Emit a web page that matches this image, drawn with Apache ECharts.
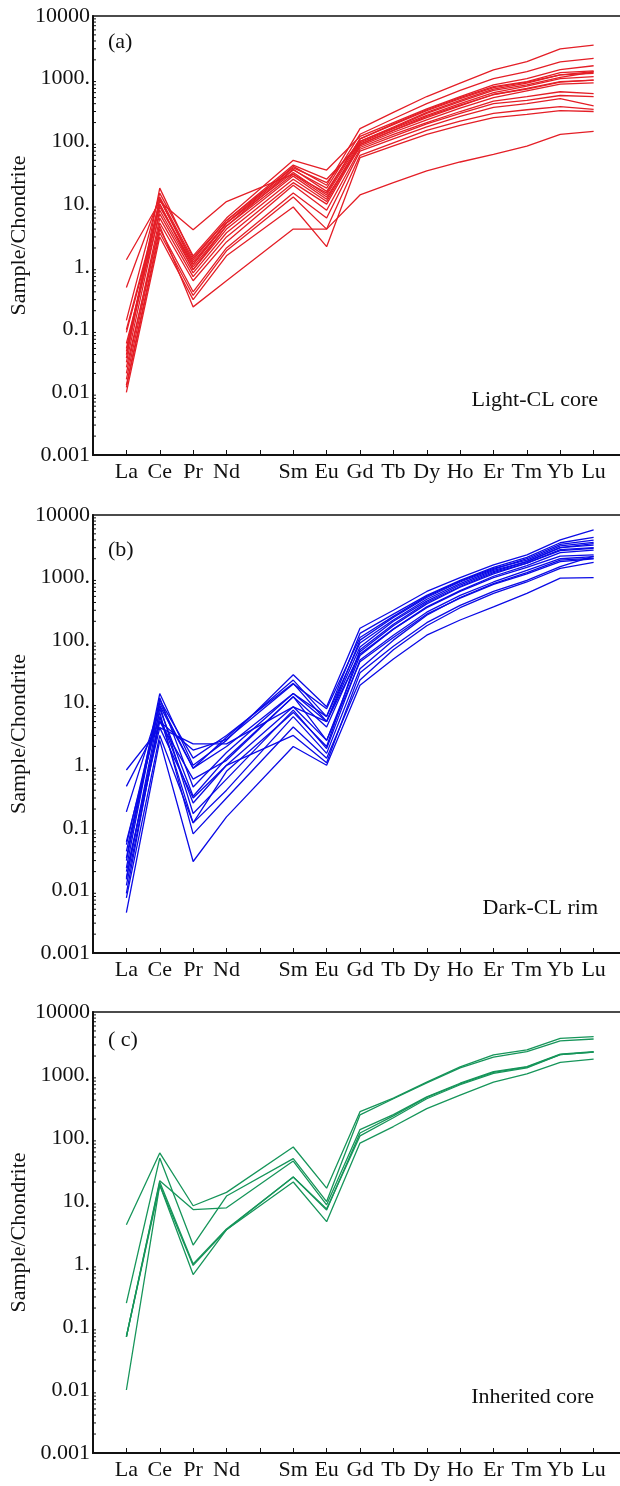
<!DOCTYPE html>
<html>
<head>
<meta charset="utf-8">
<script src="https://cdn.jsdelivr.net/npm/echarts@6/dist/echarts.min.js"></script>
<style>
  html, body { margin: 0; padding: 0; background: #fff; }
  #chart { width: 620px; height: 1486px; }
</style>
</head>
<body>
<div id="chart"></div>
<script>
// 元素（Pm 处留空，首尾各留一个空位）
var elements = ["", "La", "Ce", "Pr", "Nd", "Pm", "Sm", "Eu", "Gd", "Tb", "Dy", "Ho", "Er", "Tm", "Yb", "Lu", "end"];
var yTickLabels = ["0.001", "0.01", "0.1", "1.", "10.", "100.", "1000.", "10000"];
var minorSteps = [2, 3, 4, 5, 6, 7, 8, 9];
var decades = [0.001, 0.01, 0.1, 1, 10, 100, 1000];

// 每行: La Ce Pr Nd Sm Eu Gd Tb Dy Ho Er Tm Yb Lu
var lightCore = [
  [0.05, 12, 1.2, 5, 40, 20, 160, 290, 520, 850, 1380, 1870, 2980, 3440],
  [0.04, 10, 1.0, 4.5, 35, 18, 130, 230, 400, 650, 1000, 1300, 1850, 2110],
  [0.14, 15, 1.5, 6, 50, 35, 120, 200, 330, 520, 800, 1000, 1400, 1610],
  [1.3, 11, 3.9, 11, 30, 15, 110, 190, 320, 500, 750, 900, 1250, 1330],
  [0.47, 13, 1.3, 5.5, 38, 22, 100, 170, 290, 450, 680, 850, 1150, 1220],
  [0.09, 9, 1.1, 5, 32, 14, 100, 165, 280, 430, 650, 800, 1050, 1280],
  [0.03, 8, 0.9, 4, 28, 12, 95, 160, 260, 400, 600, 760, 1000, 1080],
  [0.06, 7, 0.8, 3.5, 25, 11, 90, 150, 240, 370, 560, 700, 900, 950],
  [0.02, 6, 0.7, 3, 22, 10, 85, 140, 220, 340, 500, 640, 820, 860],
  [0.1, 10, 0.9, 4.5, 30, 13, 80, 130, 200, 300, 440, 520, 620, 580],
  [0.016, 5, 0.6, 2.5, 20, 8, 75, 120, 190, 280, 400, 450, 540, 520],
  [0.013, 4, 0.4, 2, 15, 6, 70, 110, 170, 250, 350, 400, 480, 370],
  [0.012, 3.5, 0.35, 1.8, 13, 4, 60, 95, 150, 210, 280, 320, 360, 325],
  [0.01, 3, 0.3, 1.5, 9, 2.1, 55, 85, 130, 180, 240, 270, 310, 300],
  [0.025, 4.5, 0.23, 0.6, 4, 4, 14, 22, 34, 47, 62, 84, 130, 145],
  [0.045, 12, 1.1, 5, 36, 16, 110, 185, 310, 480, 720, 880, 1150, 1300],
  [0.035, 18, 1.4, 5.5, 42, 25, 90, 150, 250, 380, 560, 680, 880, 950]
];

var darkRim = [
  [0.033, 14, 1.0, 2.5, 28, 8.6, 155, 300, 600, 1000, 1600, 2300, 4000, 5760],
  [0.054, 10, 0.9, 2.8, 23, 6, 128, 260, 520, 900, 1450, 2100, 3600, 4400],
  [0.84, 4, 2.2, 2.2, 8.6, 5, 100, 230, 480, 850, 1350, 2000, 3400, 3980],
  [0.46, 5, 1.75, 2.6, 20, 8, 110, 240, 500, 880, 1400, 1900, 3200, 3660],
  [0.023, 12, 0.45, 1.6, 14, 5, 78, 200, 420, 760, 1250, 1800, 3000, 3310],
  [0.015, 8, 0.32, 1.3, 12.5, 4.1, 65, 170, 380, 700, 1150, 1700, 2700, 2940],
  [0.009, 6, 0.25, 1.0, 8.6, 2.5, 57, 150, 340, 620, 1050, 1550, 2500, 2750],
  [0.042, 9, 0.17, 0.6, 7.6, 1.85, 48, 120, 280, 520, 850, 1300, 2000, 2160],
  [0.0076, 3, 0.12, 0.4, 6, 1.55, 35, 100, 250, 480, 800, 1200, 1900, 2040],
  [0.0044, 2.5, 0.029, 0.15, 2, 1.0, 19, 50, 120, 210, 340, 560, 980, 1000],
  [0.06, 7, 0.08, 0.3, 4.1, 1.3, 23, 70, 170, 330, 560, 850, 1400, 1750],
  [0.18, 9, 0.9, 2, 14, 6, 90, 210, 450, 800, 1300, 1800, 3000, 3500],
  [0.03, 11, 1.3, 3, 20.4, 5, 60, 150, 330, 600, 1000, 1450, 2200, 2300],
  [0.012, 5, 0.6, 1.2, 12.5, 2.5, 45, 110, 260, 470, 780, 1150, 1800, 2000],
  [0.02, 4, 0.3, 1.0, 3, 1.1, 30, 80, 190, 360, 600, 900, 1500, 2200],
  [0.016, 6, 0.12, 0.8, 7, 2, 70, 180, 400, 720, 1200, 1700, 2800, 3000]
];

var inheritedCore = [
  [4.2, 58, 8.4, 13.7, 72, 16, 262, 430, 770, 1350, 2080, 2500, 3820, 4070],
  [0.24, 48, 2.0, 12, 47, 9.8, 233, 420, 750, 1300, 1920, 2350, 3480, 3730],
  [0.07, 21, 7.3, 7.8, 43, 8.7, 136, 235, 450, 740, 1130, 1360, 2150, 2350],
  [0.07, 18, 0.95, 3.5, 24, 7.2, 120, 225, 440, 720, 1100, 1330, 2100, 2300],
  [0.07, 20, 1.0, 3.6, 24, 7.5, 108, 210, 420, 700, 1060, 1300, 2100, 2300],
  [0.01, 18, 0.68, 3.5, 20, 4.7, 83, 152, 293, 480, 770, 1040, 1590, 1780]
];

var panels = [
  { rows: lightCore, color: "#E41E26", top: 16, height: 439, tag: "(a)", tagY: 43, note: "Light-CL core", noteX: 598, noteY: 400 },
  { rows: darkRim, color: "#0A0AE6", top: 515, height: 438, tag: "(b)", tagY: 551, note: "Dark-CL rim", noteX: 598, noteY: 908 },
  { rows: inheritedCore, color: "#16955A", top: 1012, height: 441, tag: "( c)", tagY: 1041, note: "Inherited core", noteX: 594, noteY: 1397 }
];

var FONT = "Liberation Serif";

function toSeriesData(row) {
  // 插入首位空位和 Pm 空位
  return [null].concat(row.slice(0, 4), [null], row.slice(4), [null]);
}

var minorData = [];
decades.forEach(function (d) {
  minorSteps.forEach(function (m) {
    minorData.push([0, +(d * m).toPrecision(3)]);
  });
});

var grids = [], xAxes = [], yAxes = [], series = [], texts = [];

panels.forEach(function (p, i) {
  grids.push({
    left: 93, top: p.top, width: 534, height: p.height,
    outerBoundsMode: "none", containLabel: false,
    show: true, borderColor: "#111", borderWidth: 1.5, backgroundColor: "transparent"
  });
  xAxes.push({
    type: "category", gridIndex: i, data: elements, boundaryGap: false,
    axisLine: { lineStyle: { color: "#111", width: 2 } },
    axisTick: { inside: true, length: 5, interval: 0, lineStyle: { color: "#111", width: 1 } },
    axisLabel: {
      interval: 0, margin: 6, color: "#111", fontFamily: FONT, fontSize: 22,
      formatter: function (v) { return (v === "Pm" || v === "end") ? "" : v; }
    },
    splitLine: { show: false }
  });
  yAxes.push({
    type: "log", logBase: 10, gridIndex: i, min: 0.001, max: 10000,
    name: "Sample/Chondrite", nameLocation: "middle", nameGap: 63, nameMoveOverlap: false,
    nameTextStyle: { color: "#111", fontFamily: FONT, fontSize: 22 },
    axisLine: { show: true, lineStyle: { color: "#111", width: 2 } },
    axisTick: { inside: true, length: 6, lineStyle: { color: "#111", width: 1 } },
    axisLabel: {
      margin: 3, color: "#111", fontFamily: FONT, fontSize: 22,
      formatter: function (v) { return yTickLabels[Math.round(Math.log10(v)) + 3]; }
    },
    splitLine: { show: false }
  });

  p.rows.forEach(function (row) {
    series.push({
      type: "line", xAxisIndex: i, yAxisIndex: i,
      data: toSeriesData(row), connectNulls: true,
      symbol: "none", silent: true,
      lineStyle: { color: p.color, width: 1.3 }
    });
  });

  // 对数次刻度
  series.push({
    type: "custom", xAxisIndex: i, yAxisIndex: i, silent: true, clip: false,
    data: minorData,
    renderItem: function (params, api) {
      var pt = api.coord([0, api.value(1)]);
      return {
        type: "line",
        shape: { x1: pt[0], y1: pt[1], x2: pt[0] + 3, y2: pt[1] },
        style: { stroke: "#111", lineWidth: 1 }
      };
    }
  });

  texts.push({
    type: "text", left: 108, top: p.tagY - 12,
    style: { text: p.tag, font: "22px '" + FONT + "'", fill: "#111" }
  });
  texts.push({
    type: "text", x: p.noteX, y: p.noteY,
    style: { text: p.note, font: "22px '" + FONT + "'", fill: "#111", align: "right", verticalAlign: "middle" }
  });
});

var myChart = echarts.init(document.getElementById("chart"));
myChart.setOption({
  animation: false,
  backgroundColor: "#fff",
  grid: grids,
  xAxis: xAxes,
  yAxis: yAxes,
  series: series,
  graphic: texts
});
</script>
</body>
</html>
